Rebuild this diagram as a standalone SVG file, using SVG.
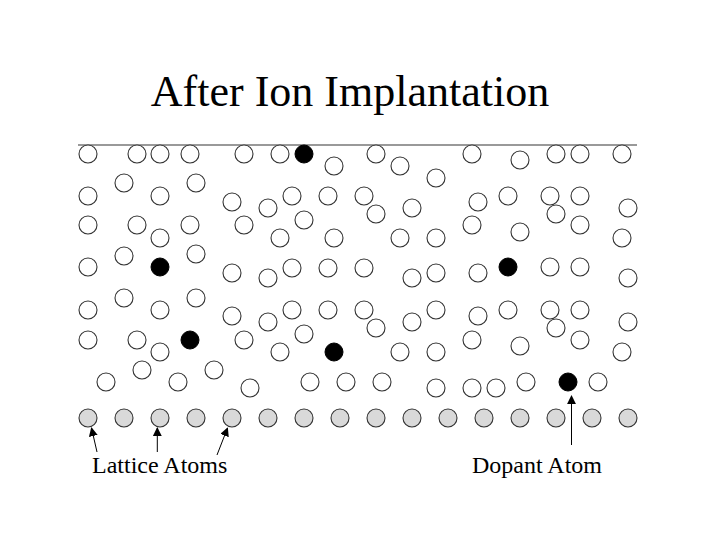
<svg xmlns="http://www.w3.org/2000/svg" width="720" height="540" viewBox="0 0 720 540">
<style>
.t{font-family:"Liberation Serif","Times New Roman",serif;fill:#000}
.w{fill:#fff;stroke:#333;stroke-width:1.1}
.g{fill:#d9d9d9;stroke:#333;stroke-width:1.1}
.d{fill:#000;stroke:#000;stroke-width:1}
.c{stroke:#000;stroke-width:1;fill:none}
</style>
<defs>
<marker id="ah" viewBox="0 0 10 10" refX="9" refY="5" markerWidth="9" markerHeight="9" markerUnits="userSpaceOnUse" orient="auto">
<path d="M0,0 L10,5 L0,10 z" fill="#000"/>
</marker>
</defs>
<rect width="720" height="540" fill="#fff"/>
<text class="t" x="350" y="106" font-size="44" text-anchor="middle">After Ion Implantation</text>
<line x1="78" y1="145" x2="637" y2="145" stroke="#777" stroke-width="1.5"/>
<g id="interstitial-atoms">
<circle class="w" cx="88" cy="154" r="9"/><circle class="w" cx="137" cy="154" r="9"/><circle class="w" cx="160" cy="154" r="9"/><circle class="w" cx="190" cy="154" r="9"/><circle class="w" cx="244" cy="154" r="9"/><circle class="w" cx="280" cy="154" r="9"/><circle class="w" cx="334" cy="166" r="9"/><circle class="w" cx="376" cy="154" r="9"/><circle class="w" cx="400" cy="166" r="9"/><circle class="w" cx="436" cy="178" r="9"/><circle class="w" cx="472" cy="154" r="9"/><circle class="w" cx="520" cy="160" r="9"/><circle class="w" cx="556" cy="154" r="9"/><circle class="w" cx="580" cy="154" r="9"/><circle class="w" cx="622" cy="154" r="9"/>
<circle class="w" cx="124" cy="183" r="9"/><circle class="w" cx="196" cy="183" r="9"/>
<circle class="w" cx="88" cy="196" r="9"/><circle class="w" cx="160" cy="196" r="9"/><circle class="w" cx="232" cy="202" r="9"/><circle class="w" cx="268" cy="208" r="9"/><circle class="w" cx="292" cy="196" r="9"/><circle class="w" cx="328" cy="196" r="9"/><circle class="w" cx="364" cy="196" r="9"/><circle class="w" cx="376" cy="214" r="9"/><circle class="w" cx="412" cy="208" r="9"/><circle class="w" cx="304" cy="220" r="9"/><circle class="w" cx="478" cy="202" r="9"/><circle class="w" cx="508" cy="196" r="9"/><circle class="w" cx="550" cy="196" r="9"/><circle class="w" cx="580" cy="196" r="9"/><circle class="w" cx="556" cy="214" r="9"/><circle class="w" cx="628" cy="208" r="9"/>
<circle class="w" cx="88" cy="225" r="9"/><circle class="w" cx="137" cy="225" r="9"/><circle class="w" cx="190" cy="225" r="9"/><circle class="w" cx="244" cy="225" r="9"/><circle class="w" cx="160" cy="238" r="9"/><circle class="w" cx="280" cy="238" r="9"/><circle class="w" cx="334" cy="238" r="9"/><circle class="w" cx="400" cy="238" r="9"/><circle class="w" cx="436" cy="238" r="9"/><circle class="w" cx="472" cy="225" r="9"/><circle class="w" cx="520" cy="232" r="9"/><circle class="w" cx="580" cy="225" r="9"/><circle class="w" cx="622" cy="238" r="9"/>
<circle class="w" cx="124" cy="256" r="9"/><circle class="w" cx="196" cy="254" r="9"/>
<circle class="w" cx="88" cy="267" r="9"/><circle class="w" cx="232" cy="273" r="9"/><circle class="w" cx="268" cy="278" r="9"/><circle class="w" cx="292" cy="268" r="9"/><circle class="w" cx="328" cy="268" r="9"/><circle class="w" cx="364" cy="268" r="9"/><circle class="w" cx="412" cy="278" r="9"/><circle class="w" cx="436" cy="273" r="9"/><circle class="w" cx="478" cy="273" r="9"/><circle class="w" cx="550" cy="267" r="9"/><circle class="w" cx="580" cy="267" r="9"/><circle class="w" cx="628" cy="278" r="9"/>
<circle class="w" cx="124" cy="298" r="9"/><circle class="w" cx="196" cy="298" r="9"/>
<circle class="w" cx="88" cy="310" r="9"/><circle class="w" cx="160" cy="310" r="9"/><circle class="w" cx="232" cy="316" r="9"/><circle class="w" cx="268" cy="322" r="9"/><circle class="w" cx="292" cy="310" r="9"/><circle class="w" cx="328" cy="310" r="9"/><circle class="w" cx="364" cy="310" r="9"/><circle class="w" cx="376" cy="328" r="9"/><circle class="w" cx="412" cy="322" r="9"/><circle class="w" cx="436" cy="310" r="9"/><circle class="w" cx="304" cy="334" r="9"/><circle class="w" cx="478" cy="316" r="9"/><circle class="w" cx="508" cy="310" r="9"/><circle class="w" cx="550" cy="310" r="9"/><circle class="w" cx="580" cy="310" r="9"/><circle class="w" cx="556" cy="328" r="9"/><circle class="w" cx="628" cy="322" r="9"/>
<circle class="w" cx="88" cy="340" r="9"/><circle class="w" cx="137" cy="340" r="9"/><circle class="w" cx="244" cy="340" r="9"/><circle class="w" cx="160" cy="352" r="9"/><circle class="w" cx="280" cy="352" r="9"/><circle class="w" cx="400" cy="352" r="9"/><circle class="w" cx="436" cy="352" r="9"/><circle class="w" cx="472" cy="340" r="9"/><circle class="w" cx="520" cy="346" r="9"/><circle class="w" cx="580" cy="340" r="9"/><circle class="w" cx="622" cy="352" r="9"/>
<circle class="w" cx="142" cy="370" r="9"/><circle class="w" cx="214" cy="370" r="9"/>
<circle class="w" cx="106" cy="382" r="9"/><circle class="w" cx="178" cy="382" r="9"/><circle class="w" cx="250" cy="388" r="9"/><circle class="w" cx="310" cy="382" r="9"/><circle class="w" cx="346" cy="382" r="9"/><circle class="w" cx="382" cy="382" r="9"/><circle class="w" cx="436" cy="388" r="9"/><circle class="w" cx="472" cy="388" r="9"/><circle class="w" cx="496" cy="388" r="9"/><circle class="w" cx="526" cy="382" r="9"/><circle class="w" cx="598" cy="382" r="9"/>
</g>
<g id="dopant-atoms">
<circle class="d" cx="304" cy="154" r="9"/><circle class="d" cx="160" cy="267" r="9"/><circle class="d" cx="508" cy="267" r="9"/><circle class="d" cx="190" cy="340" r="9"/><circle class="d" cx="334" cy="352" r="9"/><circle class="d" cx="568" cy="382" r="9"/>
</g>
<g id="lattice-atoms">
<circle class="g" cx="88" cy="418" r="9"/><circle class="g" cx="124" cy="418" r="9"/><circle class="g" cx="160" cy="418" r="9"/><circle class="g" cx="196" cy="418" r="9"/><circle class="g" cx="232" cy="418" r="9"/><circle class="g" cx="268" cy="418" r="9"/><circle class="g" cx="304" cy="418" r="9"/><circle class="g" cx="340" cy="418" r="9"/><circle class="g" cx="376" cy="418" r="9"/><circle class="g" cx="412" cy="418" r="9"/><circle class="g" cx="448" cy="418" r="9"/><circle class="g" cx="484" cy="418" r="9"/><circle class="g" cx="520" cy="418" r="9"/><circle class="g" cx="556" cy="418" r="9"/><circle class="g" cx="592" cy="418" r="9"/><circle class="g" cx="628" cy="418" r="9"/>
</g>
<g id="connectors">
<line class="c" x1="97" y1="452" x2="91.5" y2="428" marker-end="url(#ah)"/>
<line class="c" x1="157.3" y1="452" x2="157.3" y2="428" marker-end="url(#ah)"/>
<line class="c" x1="217" y1="455" x2="227.5" y2="428" marker-end="url(#ah)"/>
<line class="c" x1="571.5" y1="445" x2="571.5" y2="396" marker-end="url(#ah)"/>
</g>
<g id="label-lattice"><text class="t" x="92" y="473" font-size="24">Lattice Atoms</text></g>
<g id="label-dopant"><text class="t" x="472" y="473" font-size="24">Dopant Atom</text></g>
</svg>
